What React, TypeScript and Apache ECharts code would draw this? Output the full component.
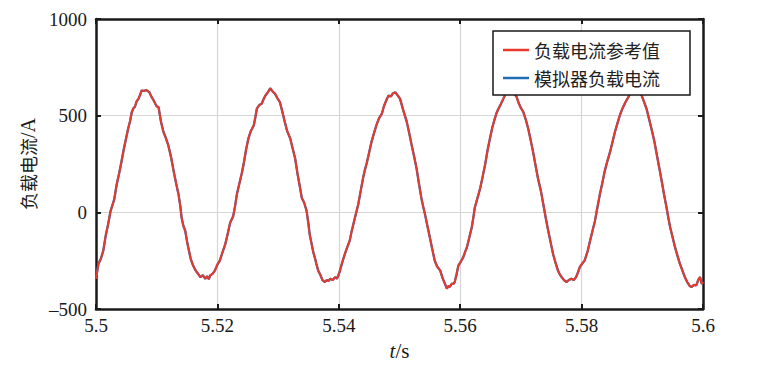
import React, { useEffect, useRef } from "react";
import * as echarts from "echarts";

// time (s) and current (A) samples
const timeS = [
  5.5, 5.5004, 5.5008, 5.5012, 5.5016, 5.502, 5.5024, 5.503, 5.5034, 5.5038, 5.5042, 5.5046, 5.5049, 5.5053, 5.5056, 5.5059,
  5.5062, 5.5064, 5.5067, 5.507, 5.5073, 5.5075, 5.5079, 5.5083, 5.5088, 5.5091, 5.5095, 5.5098, 5.51, 5.5103, 5.5107, 5.5111,
  5.5115, 5.5119, 5.5124, 5.5128, 5.5132, 5.5136, 5.5139, 5.5141, 5.5144, 5.5147, 5.515, 5.5152, 5.5156, 5.516, 5.5164, 5.5168,
  5.5172, 5.5176, 5.518, 5.5183, 5.5186, 5.5188, 5.5192, 5.5196, 5.52, 5.5204, 5.5208, 5.5213, 5.5217, 5.5221, 5.5226, 5.5229,
  5.5232, 5.5237, 5.524, 5.5243, 5.5247, 5.5251, 5.5255, 5.526, 5.5263, 5.5265, 5.5269, 5.5273, 5.5276, 5.5279, 5.5283, 5.5287,
  5.5291, 5.5295, 5.5299, 5.5303, 5.5307, 5.5311, 5.5315, 5.532, 5.5324, 5.5328, 5.5332, 5.5336, 5.5339, 5.5343, 5.5347, 5.535,
  5.5352, 5.5355, 5.5358, 5.5361, 5.5363, 5.5366, 5.537, 5.5373, 5.5377, 5.538, 5.5383, 5.5386, 5.539, 5.5394, 5.5397, 5.54,
  5.5402, 5.5406, 5.541, 5.5414, 5.5418, 5.5421, 5.5424, 5.5428, 5.5432, 5.5436, 5.544, 5.5443, 5.5446, 5.545, 5.5454, 5.5458,
  5.5462, 5.5466, 5.5471, 5.5474, 5.5476, 5.5479, 5.5482, 5.5486, 5.5489, 5.5493, 5.5497, 5.5501, 5.5506, 5.5512, 5.5516, 5.552,
  5.5524, 5.5528, 5.5532, 5.5536, 5.5539, 5.5542, 5.5546, 5.555, 5.5554, 5.5558, 5.5562, 5.5567, 5.5571, 5.5575, 5.5578, 5.5581,
  5.5583, 5.5586, 5.5589, 5.5591, 5.5594, 5.5597, 5.5601, 5.5605, 5.5608, 5.5611, 5.5615, 5.5619, 5.5622, 5.5624, 5.5629, 5.5633,
  5.5637, 5.5641, 5.5645, 5.5649, 5.5653, 5.5657, 5.566, 5.5663, 5.5667, 5.5671, 5.5675, 5.568, 5.5685, 5.569, 5.5693, 5.5697,
  5.57, 5.5704, 5.5708, 5.5712, 5.5716, 5.572, 5.5724, 5.5728, 5.5733, 5.5737, 5.5741, 5.5745, 5.5749, 5.5753, 5.5757, 5.5761,
  5.5764, 5.5767, 5.5771, 5.5775, 5.5779, 5.5783, 5.5787, 5.5791, 5.5794, 5.5797, 5.5801, 5.5805, 5.581, 5.5814, 5.5818, 5.5822,
  5.5826, 5.583, 5.5834, 5.5838, 5.5842, 5.5847, 5.5851, 5.5855, 5.5859, 5.5863, 5.5867, 5.5871, 5.5874, 5.5877, 5.5881, 5.5885,
  5.5889, 5.5894, 5.5899, 5.5903, 5.5907, 5.5911, 5.5915, 5.592, 5.5924, 5.5928, 5.5932, 5.5936, 5.594, 5.5943, 5.5946, 5.595,
  5.5954, 5.5958, 5.5962, 5.5966, 5.597, 5.5974, 5.5978, 5.5981, 5.5985, 5.5989, 5.5992, 5.5995, 5.5998, 5.6,
];

const refCurrent = [
  -343, -266, -240, -198, -120, -61, 7, 67, 143, 200, 263, 330, 374, 434, 470, 519,
  540, 545, 575, 587, 610, 630, 628, 632, 621, 600, 579, 560, 548, 545, 470, 417,
  385, 348, 280, 212, 150, 92, 30, -27, -70, -95, -150, -181, -240, -275, -300, -317,
  -335, -325, -343, -330, -345, -326, -318, -300, -270, -249, -210, -164, -110, -53, -20, 30,
  92, 160, 200, 246, 320, 382, 420, 451, 500, 536, 555, 562, 585, 604, 620, 642,
  625, 613, 590, 570, 520, 468, 420, 382, 330, 280, 200, 130, 75, 50, 7, -60,
  -113, -160, -206, -240, -266, -300, -326, -350, -360, -350, -355, -343, -350, -335, -343, -320,
  -300, -255, -215, -180, -146, -100, -61, -10, 41, 110, 178, 220, 254, 310, 366, 410,
  451, 485, 511, 545, 562, 585, 604, 600, 615, 621, 605, 587, 530, 468, 410, 348,
  290, 229, 150, 75, 30, -10, -70, -130, -190, -249, -280, -300, -340, -370, -394, -380,
  -385, -369, -370, -360, -320, -275, -255, -232, -205, -181, -130, -78, -20, 24, 80, 126,
  185, 246, 320, 382, 440, 485, 515, 536, 560, 587, 615, 640, 635, 610, 596, 560,
  540, 519, 480, 434, 375, 314, 245, 178, 110, 41, -30, -95, -155, -215, -260, -300,
  -320, -334, -350, -360, -350, -343, -350, -334, -310, -283, -265, -249, -200, -146, -95, -44,
  25, 92, 150, 212, 260, 314, 365, 417, 460, 502, 535, 562, 580, 596, 620, 640,
  630, 625, 604, 570, 536, 485, 434, 365, 297, 230, 161, 90, 24, -30, -78, -130,
  -181, -225, -266, -300, -334, -360, -380, -386, -375, -377, -350, -334, -370, -360,
];

// the simulator curve lies on top of the reference curve in the picture
const simCurrent = refCurrent.slice();

const xTicks = [5.5, 5.52, 5.54, 5.56, 5.58, 5.6];
const yTicks = [-500, 0, 500, 1000];

const seriesNames = ["负载电流参考值", "模拟器负载电流"];

const RED = "#e8392c";
const BLUE = "#1f6db5";
const SERIF = "Liberation Serif";
const CJK = "Noto Sans CJK SC";

export default function App() {
  const ref = useRef<HTMLDivElement>(null);

  useEffect(() => {
    if (!ref.current) return;
    const chart = echarts.init(ref.current, undefined, { renderer: "svg" });
    const refData = timeS.map((t, i) => [t, refCurrent[i]]);
    const simData = timeS.map((t, i) => [t, simCurrent[i]]);
    const axisColor = "#1a1a1a";

    chart.setOption({
      animation: false,
      backgroundColor: "#ffffff",
      grid: { left: 96, right: 59, top: 19, bottom: 54, containLabel: false },
      legend: {
        orient: "vertical",
        left: 493,
        top: 31,
        padding: [10, 30, 8, 10],
        itemGap: 10,
        itemWidth: 26,
        itemHeight: 2.5,
        backgroundColor: "#ffffff",
        borderColor: "#1a1a1a",
        borderWidth: 1.5,
        borderRadius: 0,
        textStyle: { fontFamily: CJK, fontSize: 18, color: "#222" },
        data: [
          { name: seriesNames[0], icon: "rect", itemStyle: { color: RED } },
          { name: seriesNames[1], icon: "rect", itemStyle: { color: BLUE } },
        ],
      },
      xAxis: [
        {
          type: "value",
          min: xTicks[0],
          max: xTicks[xTicks.length - 1],
          interval: 0.02,
          position: "bottom",
          name: "{i|t}{n|/s}",
          nameLocation: "middle",
          nameGap: 27,
          nameTextStyle: {
            fontFamily: SERIF,
            fontSize: 21,
            color: "#1a1a1a",
            rich: {
              i: { fontStyle: "italic", fontFamily: SERIF, fontSize: 21, color: "#1a1a1a" },
              n: { fontFamily: SERIF, fontSize: 21, color: "#1a1a1a" },
            },
          },
          axisLine: { show: true, onZero: false, lineStyle: { color: axisColor, width: 2.5 } },
          axisTick: { show: true, inside: true, length: 5, lineStyle: { color: axisColor, width: 2 } },
          axisLabel: {
            margin: 7,
            fontFamily: SERIF,
            fontSize: 19,
            color: "#1a1a1a",
            formatter: (v: number) => String(+v.toFixed(2)),
          },
          splitLine: { show: true, lineStyle: { color: "#d6d6d6", width: 1.2 } },
        },
        {
          type: "value",
          min: xTicks[0],
          max: xTicks[xTicks.length - 1],
          interval: 0.02,
          position: "top",
          axisLine: { show: true, onZero: false, lineStyle: { color: axisColor, width: 2.5 } },
          axisTick: { show: true, inside: true, length: 5, lineStyle: { color: axisColor, width: 2 } },
          axisLabel: { show: false },
          splitLine: { show: false },
        },
      ],
      yAxis: [
        {
          type: "value",
          min: yTicks[0],
          max: yTicks[yTicks.length - 1],
          interval: 500,
          position: "left",
          name: "{c|负载电流}{n|/A}",
          nameLocation: "middle",
          nameRotate: 90,
          nameGap: 58,
          nameTextStyle: {
            fontSize: 19,
            color: "#1a1a1a",
            rich: {
              c: { fontFamily: CJK, fontSize: 18, color: "#1a1a1a" },
              n: { fontFamily: SERIF, fontSize: 20, color: "#1a1a1a" },
            },
          },
          axisLine: { show: true, onZero: false, lineStyle: { color: axisColor, width: 2.5 } },
          axisTick: { show: true, inside: true, length: 5, lineStyle: { color: axisColor, width: 2 } },
          axisLabel: {
            margin: 9,
            fontFamily: SERIF,
            fontSize: 19,
            color: "#1a1a1a",
            formatter: (v: number) => (v < 0 ? "\u2013" + Math.abs(v) : String(v)),
          },
          splitLine: { show: true, lineStyle: { color: "#d6d6d6", width: 1.2 } },
        },
        {
          type: "value",
          min: yTicks[0],
          max: yTicks[yTicks.length - 1],
          interval: 500,
          position: "right",
          axisLine: { show: true, onZero: false, lineStyle: { color: axisColor, width: 2.5 } },
          axisTick: { show: true, inside: true, length: 5, lineStyle: { color: axisColor, width: 2 } },
          axisLabel: { show: false },
          splitLine: { show: false },
        },
      ],
      series: [
        {
          name: seriesNames[1],
          type: "line",
          data: simData,
          showSymbol: false,
          symbol: "none",
          lineStyle: { color: BLUE, width: 2.3 },
          itemStyle: { color: BLUE },
          z: 2,
        },
        {
          name: seriesNames[0],
          type: "line",
          data: refData,
          showSymbol: false,
          symbol: "none",
          lineStyle: { color: RED, width: 2 },
          itemStyle: { color: RED },
          z: 3,
        },
      ],
    });

    return () => chart.dispose();
  }, []);

  return (
    <div
      ref={ref}
      style={{ position: "fixed", left: 0, top: 0, width: 762, height: 366, background: "#fff" }}
    />
  );
}
